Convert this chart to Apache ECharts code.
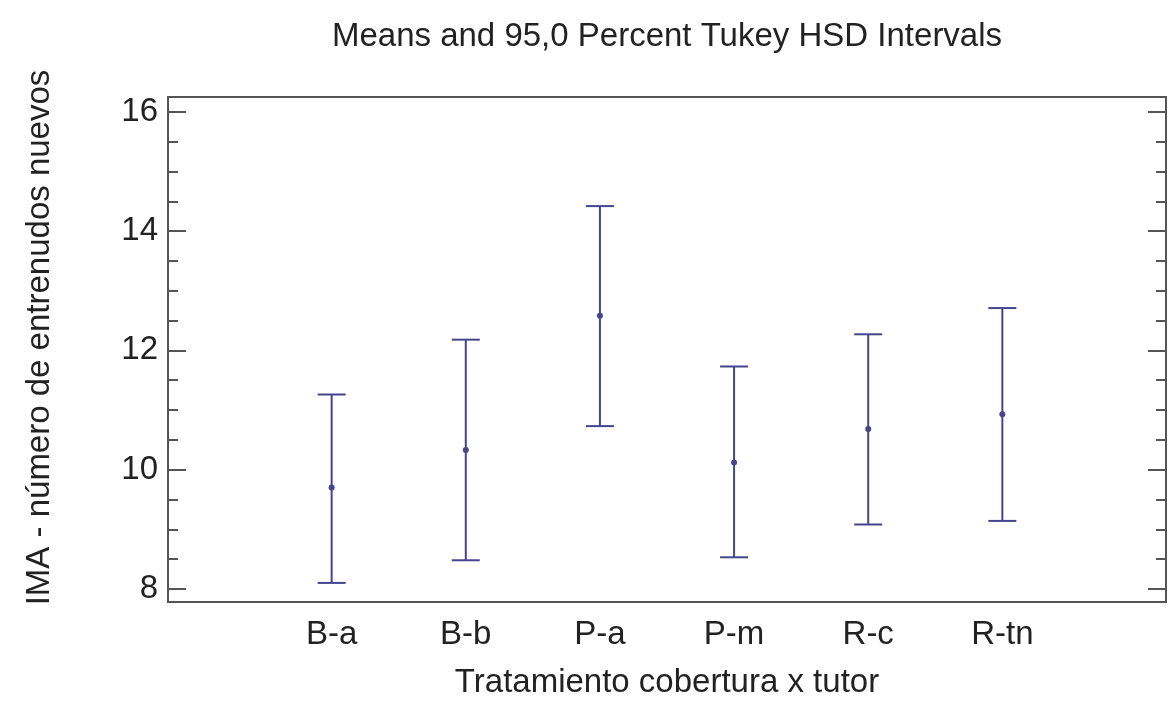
<!DOCTYPE html>
<html>
<head>
<meta charset="utf-8">
<script src="https://cdn.jsdelivr.net/npm/echarts@6/dist/echarts.min.js"></script>
<style>html,body{margin:0;padding:0;background:#fff}#c{width:1171px;height:704px}</style>
</head>
<body>
<div id="c"></div>
<script>
var categories = ['B-a', 'B-b', 'P-a', 'P-m', 'R-c', 'R-tn'];
var means = [9.70, 10.33, 12.58, 10.12, 10.68, 10.93];
var lower = [8.10, 8.48, 10.73, 8.53, 9.08, 9.14];
var upper = [11.26, 12.18, 14.42, 11.73, 12.27, 12.71];
var yMajorTicks = [8, 10, 12, 14, 16];
var yMinorTicks = [8.5, 9, 9.5, 10.5, 11, 11.5, 12.5, 13, 13.5, 14.5, 15, 15.5];
var titleText = 'Means and 95,0 Percent Tukey HSD Intervals';
var xName = 'Tratamiento cobertura x tutor';
var yName = 'IMA - número de entrenudos nuevos';

var FONT = "'Liberation Sans', Arial, sans-serif";
var barColor = '#45458e';
var tickColor = '#555';
var data = categories.map(function (c, i) { return [i, lower[i], upper[i], means[i]]; });

function yAxisDef(pos, ticks, len, showLabel, name) {
  return {
    type: 'value', position: pos, min: 7.78, max: 16.25, offset: 0,
    splitLine: { show: false },
    axisLine: { show: false, onZero: false },
    axisTick: { show: true, inside: true, length: len, customValues: ticks,
      lineStyle: { color: tickColor, width: 2 } },
    axisLabel: { show: showLabel, customValues: ticks, margin: 10,
      fontFamily: FONT, fontSize: 33, color: '#222' },
    name: name || '', nameLocation: 'middle', nameGap: 112,
    nameTextStyle: { fontFamily: FONT, fontSize: 33, color: '#222', padding: [0, 0, 0, 24] }
  };
}

var chart = echarts.init(document.getElementById('c'), null, { renderer: 'canvas' });
chart.setOption({
  animation: false,
  backgroundColor: '#fff',
  title: { text: titleText, left: 662, top: 15, textAlign: 'center',
    textStyle: { fontFamily: FONT, fontSize: 33, fontWeight: 'normal', color: '#222' } },
  grid: { left: 168, right: 5, top: 97, bottom: 98, show: true,
    borderColor: '#555', borderWidth: 2, backgroundColor: 'transparent' },
  xAxis: {
    type: 'value', min: -1.22, max: 6.22,
    splitLine: { show: false }, axisLine: { show: false, onZero: false }, axisTick: { show: false },
    axisLabel: { customValues: [0, 1, 2, 3, 4, 5], margin: 16,
      formatter: function (v) { return categories[Math.round(v)] || ''; },
      fontFamily: FONT, fontSize: 33, color: '#222' },
    name: xName, nameLocation: 'middle', nameGap: 64,
    nameTextStyle: { fontFamily: FONT, fontSize: 33, color: '#222' }
  },
  yAxis: [
    yAxisDef('left', yMajorTicks, 18, true, yName),
    yAxisDef('left', yMinorTicks, 10, false),
    yAxisDef('right', yMajorTicks, 18, false),
    yAxisDef('right', yMinorTicks, 10, false)
  ],
  series: [{
    type: 'custom',
    data: data,
    encode: { x: 0, y: [1, 2, 3] },
    renderItem: function (params, api) {
      var x = api.value(0);
      var lo = api.coord([x, api.value(1)]);
      var hi = api.coord([x, api.value(2)]);
      var m = api.coord([x, api.value(3)]);
      var hw = 14;
      var st = { stroke: barColor, lineWidth: 2 };
      return { type: 'group', children: [
        { type: 'line', shape: { x1: hi[0], y1: hi[1], x2: lo[0], y2: lo[1] }, style: st },
        { type: 'line', shape: { x1: hi[0] - hw, y1: hi[1], x2: hi[0] + hw, y2: hi[1] }, style: st },
        { type: 'line', shape: { x1: lo[0] - hw, y1: lo[1], x2: lo[0] + hw, y2: lo[1] }, style: st },
        { type: 'circle', shape: { cx: m[0], cy: m[1], r: 3 }, style: { fill: barColor } }
      ] };
    }
  }]
});
</script>
</body>
</html>
